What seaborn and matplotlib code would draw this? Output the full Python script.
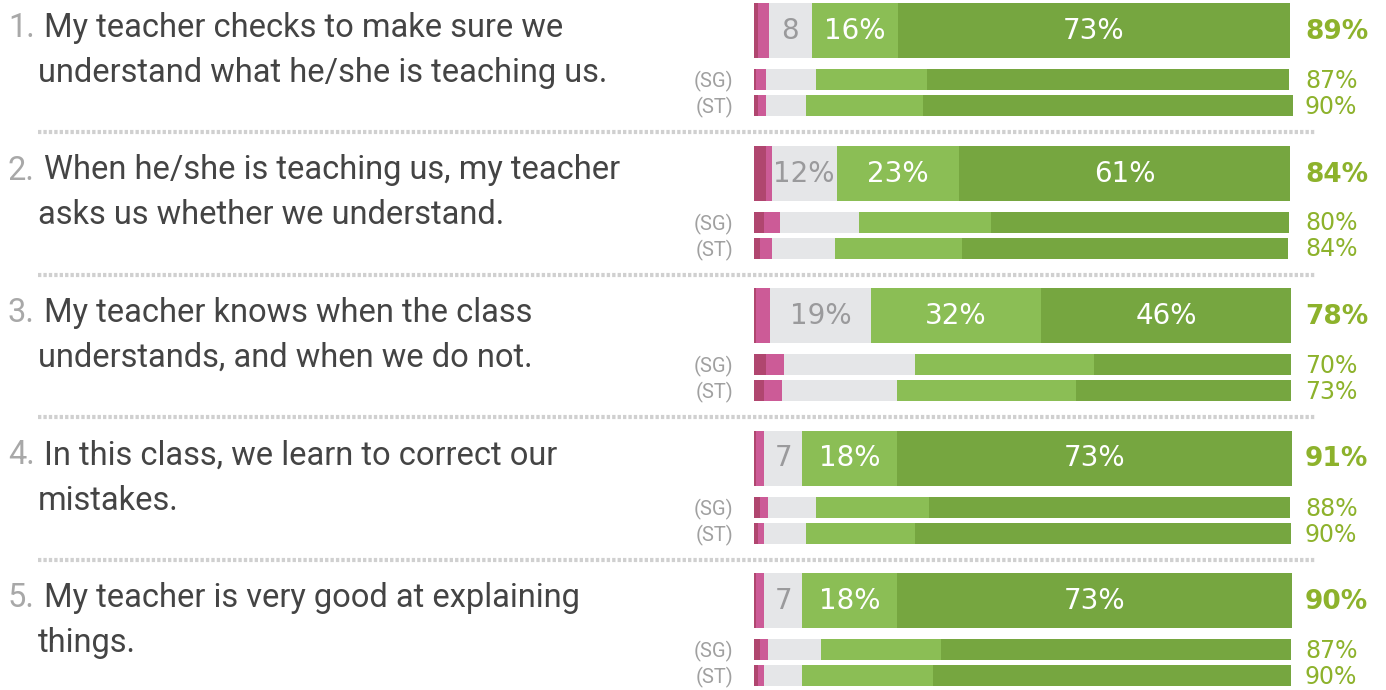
import numpy as np
import pandas as pd
import matplotlib
matplotlib.use("Agg")
import matplotlib.pyplot as plt
import seaborn as sns

# ---------------- data ----------------
questions = [
    ["My teacher checks to make sure we", "understand what he/she is teaching us."],
    ["When he/she is teaching us, my teacher", "asks us whether we understand."],
    ["My teacher knows when the class", "understands, and when we do not."],
    ["In this class, we learn to correct our", "mistakes."],
    ["My teacher is very good at explaining", "things."],
]
groups = ["Class", "(SG)", "(ST)"]

# per question: [class, SG, ST]
strongly_disagree = [[0.75, 0.4, 0.75], [2.2, 1.9, 1.1], [0.4, 2.2, 1.9], [0.4, 1.1, 0.75], [0.4, 1.1, 0.75]]
disagree = [[2.0, 1.9, 1.5], [1.1, 3.0, 2.2], [2.6, 3.4, 3.4], [1.5, 1.5, 1.1], [1.5, 1.5, 1.1]]
neutral = [[8.0, 9.3, 7.4], [12.1, 14.7, 11.7], [18.8, 24.4, 21.4], [7.1, 8.9, 7.8], [7.1, 9.9, 7.1]]
agree = [[16.0, 20.7, 21.8], [22.7, 24.6, 23.8], [31.7, 33.3, 33.3], [17.7, 21.0, 20.3], [17.7, 22.3, 24.4]]
strongly_agree = [[73.0, 67.4, 68.9], [61.8, 55.5, 60.7], [46.5, 36.7, 40.0], [73.4, 67.4, 70.0], [73.4, 65.2, 66.7]]
totals = [[89, 87, 90], [84, 80, 84], [78, 70, 73], [91, 88, 90], [90, 87, 90]]

# labels printed inside the class bars (neutral, agree, strongly agree)
neutral_labels = ["8", "12%", "19%", "7", "7"]
agree_labels = ["16%", "23%", "32%", "18%", "18%"]
strongly_agree_labels = ["73%", "61%", "46%", "73%", "73%"]

seg_colors = ["#b0466f", "#cc5b97", "#e5e6e8", "#8bbe55", "#76a640"]
total_color = "#8db22c"

# ---------------- layout ----------------
W, H = 1386, 690
x0_px, px_per_pct = 754, 5.37
xmin = -x0_px / px_per_pct
xmax = (W - x0_px) / px_per_pct
row_pitch = 142.5
first_center = 30.5
sub_offsets = {"Class": 0, "(SG)": 49, "(ST)": 75}


def fx(px):
    return xmin + px / W * (xmax - xmin)


rows = []
for qi in range(len(questions)):
    for gi, g in enumerate(groups):
        segs = [strongly_disagree[qi][gi], disagree[qi][gi], neutral[qi][gi],
                agree[qi][gi], strongly_agree[qi][gi]]
        cum = np.cumsum(segs)
        r = {"q": qi, "group": g, "kind": "main" if g == "Class" else "sub",
             "ypos": first_center + row_pitch * qi + sub_offsets[g],
             "total": totals[qi][gi]}
        for k in range(5):
            r[f"c{k}"] = cum[k]
            r[f"s{k}"] = segs[k]
        rows.append(r)
df = pd.DataFrame(rows)

sns.set_theme(style="white")
fig = plt.figure(figsize=(W / 100, H / 100), dpi=100)
ax = fig.add_axes([0, 0, 1, 1])

main_df = df[df.kind == "main"]
sub_df = df[df.kind == "sub"]
for k in reversed(range(5)):
    sns.barplot(data=main_df, x=f"c{k}", y="ypos", orient="h", native_scale=True,
                width=55 / row_pitch, color=seg_colors[k], saturation=1,
                errorbar=None, linewidth=0, ax=ax)
    sns.barplot(data=sub_df, x=f"c{k}", y="ypos", orient="h", native_scale=True,
                width=21 / 26, color=seg_colors[k], saturation=1,
                errorbar=None, linewidth=0, ax=ax)

ax.set_xlim(xmin, xmax)
ax.set_ylim(H, 0)
ax.set_axis_off()

# in-bar labels
lab_font = dict(family="DejaVu Sans", fontsize=20, ha="center", va="center")
for qi, r in main_df.reset_index(drop=True).iterrows():
    y = r["ypos"] + 0.5
    ax.text(r["c1"] + r["s2"] / 2, y, neutral_labels[qi], color="#9a9a9c", **lab_font)
    ax.text(r["c2"] + r["s3"] / 2, y, agree_labels[qi], color="white", **lab_font)
    ax.text(r["c3"] + r["s4"] / 2, y, strongly_agree_labels[qi], color="white", **lab_font)

# totals
for _, r in df.iterrows():
    if r["kind"] == "main":
        ax.text(fx(1305), r["ypos"] + 1.5, f"{int(r['total'])}%", color=total_color,
                family="DejaVu Sans", fontsize=19, fontweight="bold", ha="left", va="center")
    else:
        ax.text(fx(1305), r["ypos"] + 1.5, f"{int(r['total'])}%", color=total_color,
                family="DejaVu Sans", fontsize=17, ha="left", va="center")
        ax.text(fx(733), r["ypos"] + 2, r["group"], color="#a0a0a0",
                family="Roboto", fontsize=14.5, ha="right", va="center")

# questions
for qi, (l1, l2) in enumerate(questions):
    base = row_pitch * qi
    ax.text(fx(8), 37 + base, f"{qi + 1}.", color="#a8a8a8", family="Roboto",
            fontsize=23.5, ha="left", va="baseline")
    ax.text(fx(44), 37 + base, l1, color="#444444", family="Roboto",
            fontsize=23.5, ha="left", va="baseline")
    ax.text(fx(38), 82 + base, l2, color="#444444", family="Roboto",
            fontsize=23.5, ha="left", va="baseline")

# dotted separators
for qi in range(len(questions) - 1):
    y = 132 + row_pitch * qi
    ax.plot([fx(38), fx(1315)], [y, y], color="#d0d0d0", lw=3,
            linestyle=(0, (0.8, 0.5)), solid_capstyle="butt", dash_capstyle="butt")

fig.savefig("out.png", dpi=100)
